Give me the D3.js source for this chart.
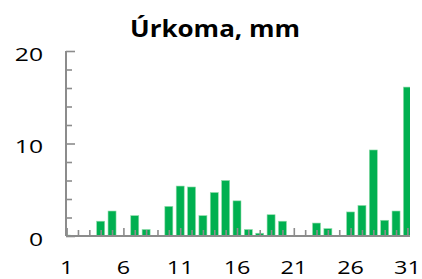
<!DOCTYPE html>
<html>
<head>
<meta charset="utf-8">
<script src="https://cdn.jsdelivr.net/npm/d3@7"></script>
<style>
    body { margin: 0; background: #fff; }
    svg { display: block; }
</style>
</head>
<body>
<div id="chart"></div>
<script>
// daily precipitation, mm
var days = [1, 2, 3, 4, 5, 6, 7, 8, 9, 10, 11, 12, 13, 14, 15, 16,
    17, 18, 19, 20, 21, 22, 23, 24, 25, 26, 27, 28, 29, 30, 31];
var rain = [0.1, 0, 0, 1.6, 2.7, 0, 2.2, 0.7, 0, 3.2, 5.4, 5.3, 2.2, 4.7, 6.0, 3.8,
    0.7, 0.3, 2.3, 1.6, 0, 0, 1.4, 0.8, 0, 2.6, 3.3, 9.3, 1.7, 2.7, 16.1];
var xLabels = [1, 6, 11, 16, 21, 26, 31];
var yLabels = [0, 10, 20];
var yMinor = [2, 4, 6, 8, 12, 14, 16, 18];
var title = "Úrkoma, mm";

var width = 422;
var height = 279;
// plot box (note: "top" is taken by window.top)
var plotL = 66, plotR = 410, plotT = 51, plotB = 236;
var axisColor = "#8c8c8c";
var stretch = 1.3;

var svg = d3.select("#chart").append("svg")
    .attr("width", width).attr("height", height);

svg.append("rect").attr("width", width).attr("height", height).attr("fill", "#fff");

var x = d3.scalePoint().domain(days).range([66.6, 407.4]);
var y = d3.scaleLinear().domain([0, 20]).range([plotB, plotT]);

svg.append("clipPath").attr("id", "plot")
    .append("rect")
    .attr("x", plotL).attr("y", 0)
    .attr("width", plotR - plotL).attr("height", plotB);

// bars
svg.append("g").attr("clip-path", "url(#plot)")
    .selectAll("rect")
    .data(days)
    .enter().append("rect")
    .attr("x", function (d) { return x(d) - 4; })
    .attr("width", 8)
    .attr("y", function (d, i) { return y(rain[i]); })
    .attr("height", function (d, i) { return plotB - y(rain[i]); })
    .attr("fill", "#00b050")
    .attr("stroke", "#8fdcaa")
    .attr("stroke-width", 0.6);

// x axis, ticks pointing up
var xMajor = svg.append("g")
    .attr("transform", "translate(0," + plotB + ")")
    .call(d3.axisTop(x).tickValues(xLabels).tickSize(8).tickFormat(""));
var xMinor = svg.append("g")
    .attr("transform", "translate(0," + plotB + ")")
    .call(d3.axisTop(x).tickValues(days.filter(function (d) { return xLabels.indexOf(d) < 0; }))
        .tickSize(6).tickFormat(""));
xMinor.select(".domain").remove();
xMajor.select(".domain").attr("d", "M" + plotL + ",0H" + plotR);

// y axis, ticks pointing right
var yMajor = svg.append("g")
    .attr("transform", "translate(" + plotL + ",0)")
    .call(d3.axisRight(y).tickValues(yLabels).tickSize(9).tickFormat(""));
var yMin = svg.append("g")
    .attr("transform", "translate(" + plotL + ",0)")
    .call(d3.axisRight(y).tickValues(yMinor).tickSize(6).tickFormat(""));
yMin.select(".domain").remove();
yMajor.select(".domain").attr("d", "M0," + plotT + "V" + plotB);

svg.selectAll(".domain").attr("stroke", axisColor).attr("stroke-width", 2);
svg.selectAll(".tick line").attr("stroke", axisColor).attr("stroke-width", 1.6);

// tick labels, drawn wide like the original
svg.selectAll(".ylab")
    .data(yLabels)
    .enter().append("g")
    .attr("transform", function (d) { return "translate(43," + (y(d) + 2) + ") scale(" + stretch + ",1)"; })
    .append("text")
    .attr("text-anchor", "end")
    .attr("dominant-baseline", "central")
    .style("font-family", "'Open Sans', sans-serif")
    .style("font-size", "19px")
    .style("fill", "#000")
    .text(function (d) { return d; });

svg.selectAll(".xlab")
    .data(xLabels)
    .enter().append("g")
    .attr("transform", function (d) { return "translate(" + x(d) + ",274) scale(" + stretch + ",1)"; })
    .append("text")
    .attr("text-anchor", "middle")
    .style("font-family", "'Open Sans', sans-serif")
    .style("font-size", "18px")
    .style("fill", "#000")
    .text(function (d) { return d; });

svg.append("text")
    .attr("x", 215)
    .attr("y", 37)
    .attr("text-anchor", "middle")
    .attr("textLength", 170)
    .attr("lengthAdjust", "spacingAndGlyphs")
    .style("font-family", "'Open Sans', sans-serif")
    .style("font-weight", "bold")
    .style("font-size", "23px")
    .style("fill", "#000")
    .text(title);
</script>
</body>
</html>
